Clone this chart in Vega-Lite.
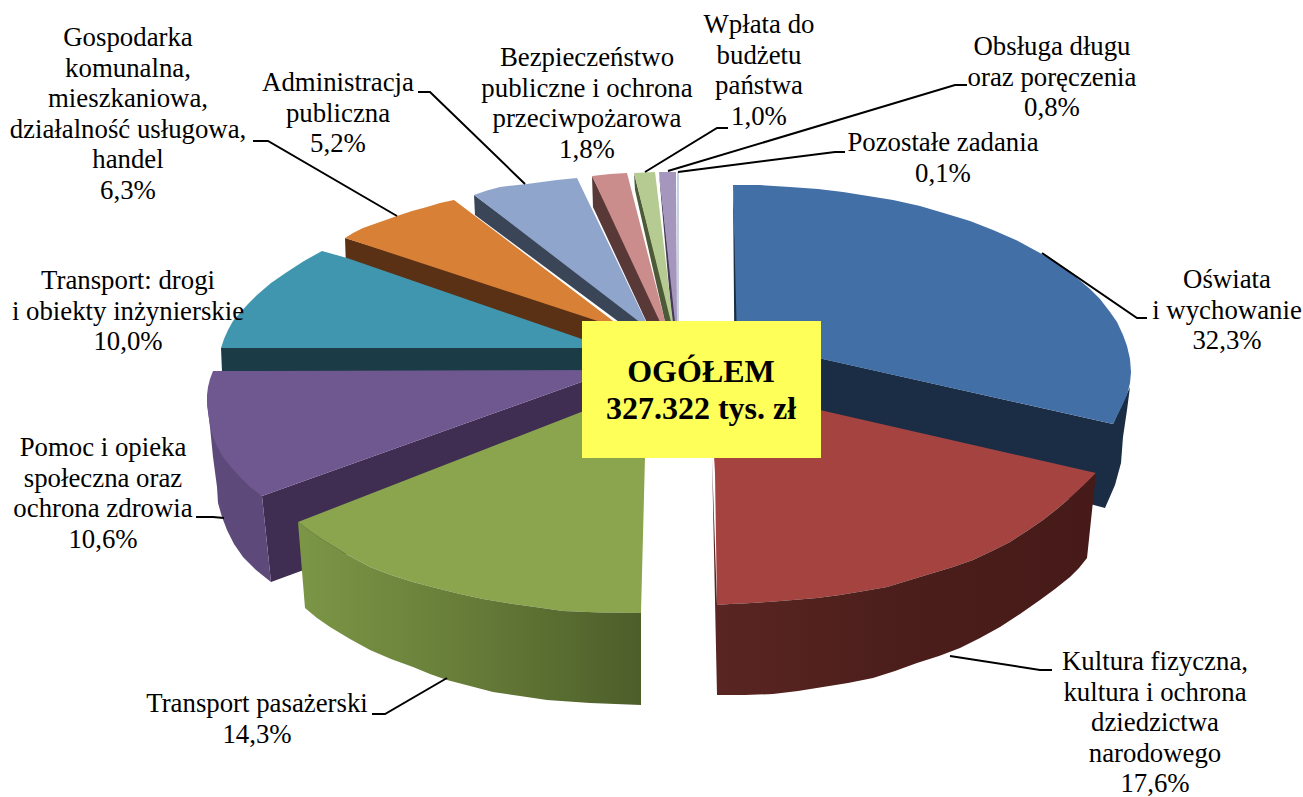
{"$schema":"https://vega.github.io/schema/vega-lite/v6.json","width":1303,"height":797,"padding":0,"autosize":{"type":"none"},"background":"white","view":{"stroke":null},
"datasets":{
"shapes":[
{"p":"poz","s":0,"x":677,"y":172},{"p":"poz","s":1,"x":679,"y":172},{"p":"poz","s":2,"x":679,"y":322},{"p":"poz","s":3,"x":677,"y":322},
{"p":"lavW","s":0,"x":659,"y":172},{"p":"lavW","s":1,"x":660,"y":185},{"p":"lavW","s":2,"x":672,"y":322},{"p":"lavW","s":3,"x":676,"y":322},
{"p":"lav","s":0,"x":659,"y":172},{"p":"lav","s":1,"x":676,"y":172},{"p":"lav","s":2,"x":677,"y":322},{"p":"lav","s":3,"x":675,"y":322},
{"p":"limW","s":0,"x":634,"y":173},{"p":"limW","s":1,"x":635,"y":190},{"p":"limW","s":2,"x":665,"y":322},{"p":"limW","s":3,"x":672,"y":322},
{"p":"lim","s":0,"x":634,"y":173},{"p":"lim","s":1,"x":655,"y":172},{"p":"lim","s":2,"x":673,"y":322},{"p":"lim","s":3,"x":671,"y":322},
{"p":"pnkW","s":0,"x":592,"y":176},{"p":"pnkW","s":1,"x":593,"y":207},{"p":"pnkW","s":2,"x":648,"y":325},{"p":"pnkW","s":3,"x":664,"y":322},
{"p":"pnk","s":0,"x":592,"y":176},{"p":"pnk","s":1,"x":610,"y":174},{"p":"pnk","s":2,"x":627,"y":173},{"p":"pnk","s":3,"x":666,"y":325},{"p":"pnk","s":4,"x":660,"y":322},
{"p":"sltW","s":0,"x":474,"y":195},{"p":"sltW","s":1,"x":475,"y":215},{"p":"sltW","s":2,"x":650,"y":345},{"p":"sltW","s":3,"x":650,"y":326},
{"p":"ltb","s":0,"x":474,"y":195},{"p":"ltb","s":1,"x":487,"y":190.5},{"p":"ltb","s":2,"x":500,"y":187},{"p":"ltb","s":3,"x":513,"y":185.5},{"p":"ltb","s":4,"x":527,"y":184},{"p":"ltb","s":5,"x":542,"y":182},{"p":"ltb","s":6,"x":557,"y":180},{"p":"ltb","s":7,"x":577,"y":178},{"p":"ltb","s":8,"x":650,"y":330},
{"p":"brn","s":0,"x":345,"y":238},{"p":"brn","s":1,"x":625,"y":325},{"p":"brn","s":2,"x":625,"y":355},{"p":"brn","s":3,"x":346,"y":268},
{"p":"org","s":0,"x":345,"y":238},{"p":"org","s":1,"x":353,"y":233},{"p":"org","s":2,"x":363,"y":228},{"p":"org","s":3,"x":380,"y":222},{"p":"org","s":4,"x":397,"y":216},{"p":"org","s":5,"x":412,"y":211},{"p":"org","s":6,"x":427,"y":207},{"p":"org","s":7,"x":440,"y":203},{"p":"org","s":8,"x":454,"y":200},{"p":"org","s":9,"x":625,"y":330},
{"p":"tealW","s":0,"x":221,"y":348},{"p":"tealW","s":1,"x":608,"y":348},{"p":"tealW","s":2,"x":608,"y":372},{"p":"tealW","s":3,"x":222,"y":372},
{"p":"teal","s":0,"x":221,"y":348},{"p":"teal","s":1,"x":224,"y":339},{"p":"teal","s":2,"x":228,"y":330},{"p":"teal","s":3,"x":233,"y":321},{"p":"teal","s":4,"x":240,"y":313},{"p":"teal","s":5,"x":248,"y":304},{"p":"teal","s":6,"x":257,"y":295},{"p":"teal","s":7,"x":271,"y":283},{"p":"teal","s":8,"x":287,"y":272},{"p":"teal","s":9,"x":304,"y":261},{"p":"teal","s":10,"x":322,"y":251},{"p":"teal","s":11,"x":347,"y":258},{"p":"teal","s":12,"x":608,"y":348},
{"p":"purI","s":0,"x":262,"y":496},{"p":"purI","s":1,"x":615,"y":370},{"p":"purI","s":2,"x":615,"y":456},{"p":"purI","s":3,"x":271,"y":582},
{"p":"purO","s":0,"x":207,"y":403},{"p":"purO","s":1,"x":262,"y":496},{"p":"purO","s":2,"x":271,"y":582},{"p":"purO","s":3,"x":256,"y":570},{"p":"purO","s":4,"x":243,"y":557},{"p":"purO","s":5,"x":234,"y":544},{"p":"purO","s":6,"x":227,"y":530},{"p":"purO","s":7,"x":222,"y":517},{"p":"purO","s":8,"x":218,"y":503},{"p":"purO","s":9,"x":217,"y":487},{"p":"purO","s":10,"x":213,"y":457},{"p":"purO","s":11,"x":210,"y":427},
{"p":"pur","s":0,"x":213,"y":371},{"p":"pur","s":1,"x":615,"y":370},{"p":"pur","s":2,"x":262,"y":496},{"p":"pur","s":3,"x":250,"y":487},{"p":"pur","s":4,"x":240,"y":477},{"p":"pur","s":5,"x":231,"y":467},{"p":"pur","s":6,"x":223,"y":457},{"p":"pur","s":7,"x":218,"y":448},{"p":"pur","s":8,"x":213,"y":437},{"p":"pur","s":9,"x":210,"y":425},{"p":"pur","s":10,"x":208,"y":412},{"p":"pur","s":11,"x":207,"y":403},{"p":"pur","s":12,"x":207,"y":395},{"p":"pur","s":13,"x":208,"y":387},{"p":"pur","s":14,"x":210,"y":379},
{"p":"bluW","s":0,"x":733,"y":185},{"p":"bluW","s":1,"x":739,"y":340},{"p":"bluW","s":2,"x":1113,"y":424},{"p":"bluW","s":3,"x":1130,"y":387},{"p":"bluW","s":4,"x":1127,"y":410},{"p":"bluW","s":5,"x":1123,"y":437},{"p":"bluW","s":6,"x":1121,"y":463},{"p":"bluW","s":7,"x":1115,"y":485},{"p":"bluW","s":8,"x":1105,"y":508},{"p":"bluW","s":9,"x":1090,"y":504},{"p":"bluW","s":10,"x":735,"y":420},
{"p":"blu","s":0,"x":733,"y":185},{"p":"blu","s":1,"x":760,"y":185},{"p":"blu","s":2,"x":790,"y":187},{"p":"blu","s":3,"x":818,"y":189},{"p":"blu","s":4,"x":843,"y":192},{"p":"blu","s":5,"x":868,"y":196},{"p":"blu","s":6,"x":893,"y":200},{"p":"blu","s":7,"x":920,"y":206},{"p":"blu","s":8,"x":947,"y":214},{"p":"blu","s":9,"x":970,"y":221},{"p":"blu","s":10,"x":993,"y":230},{"p":"blu","s":11,"x":1017,"y":240.5},{"p":"blu","s":12,"x":1040,"y":253},{"p":"blu","s":13,"x":1060,"y":265},{"p":"blu","s":14,"x":1077,"y":278},{"p":"blu","s":15,"x":1090,"y":289},{"p":"blu","s":16,"x":1100,"y":299},{"p":"blu","s":17,"x":1110,"y":312},{"p":"blu","s":18,"x":1117,"y":322},{"p":"blu","s":19,"x":1123,"y":335},{"p":"blu","s":20,"x":1127,"y":346},{"p":"blu","s":21,"x":1130,"y":359},{"p":"blu","s":22,"x":1131,"y":372},{"p":"blu","s":23,"x":1130,"y":383},{"p":"blu","s":24,"x":1127,"y":395},{"p":"blu","s":25,"x":1122,"y":406},{"p":"blu","s":26,"x":1113,"y":424},{"p":"blu","s":27,"x":737,"y":340},
{"p":"red","s":0,"x":710,"y":385},{"p":"red","s":1,"x":1096,"y":473},{"p":"red","s":2,"x":1083,"y":486},{"p":"red","s":3,"x":1070,"y":498},{"p":"red","s":4,"x":1057,"y":509},{"p":"red","s":5,"x":1043,"y":520},{"p":"red","s":6,"x":1027,"y":531},{"p":"red","s":7,"x":1010,"y":542},{"p":"red","s":8,"x":992,"y":551},{"p":"red","s":9,"x":973,"y":560},{"p":"red","s":10,"x":953,"y":567},{"p":"red","s":11,"x":933,"y":573},{"p":"red","s":12,"x":910,"y":580},{"p":"red","s":13,"x":887,"y":587},{"p":"red","s":14,"x":864,"y":591},{"p":"red","s":15,"x":840,"y":595},{"p":"red","s":16,"x":817,"y":598},{"p":"red","s":17,"x":793,"y":600},{"p":"red","s":18,"x":768,"y":602},{"p":"red","s":19,"x":743,"y":603.5},{"p":"red","s":20,"x":730,"y":604},{"p":"red","s":21,"x":717,"y":605},{"p":"red","s":22,"x":715,"y":473},
{"p":"grn","s":0,"x":648,"y":386},{"p":"grn","s":1,"x":645,"y":457},{"p":"grn","s":2,"x":641,"y":613},{"p":"grn","s":3,"x":600,"y":612.5},{"p":"grn","s":4,"x":563,"y":611},{"p":"grn","s":5,"x":535,"y":607},{"p":"grn","s":6,"x":507,"y":603},{"p":"grn","s":7,"x":483,"y":599},{"p":"grn","s":8,"x":460,"y":594},{"p":"grn","s":9,"x":436,"y":588},{"p":"grn","s":10,"x":413,"y":582},{"p":"grn","s":11,"x":391,"y":575},{"p":"grn","s":12,"x":370,"y":567},{"p":"grn","s":13,"x":346,"y":554},{"p":"grn","s":14,"x":323,"y":540},{"p":"grn","s":15,"x":310,"y":531},{"p":"grn","s":16,"x":298,"y":522}
],
"redWall":[
{"p":"redW","s":0,"x":712,"y":458},{"p":"redW","s":1,"x":717,"y":605},{"p":"redW","s":2,"x":730,"y":604},{"p":"redW","s":3,"x":743,"y":603.5},{"p":"redW","s":4,"x":768,"y":602},{"p":"redW","s":5,"x":793,"y":600},{"p":"redW","s":6,"x":817,"y":598},{"p":"redW","s":7,"x":840,"y":595},{"p":"redW","s":8,"x":864,"y":591},{"p":"redW","s":9,"x":887,"y":587},{"p":"redW","s":10,"x":910,"y":580},{"p":"redW","s":11,"x":933,"y":573},{"p":"redW","s":12,"x":953,"y":567},{"p":"redW","s":13,"x":973,"y":560},{"p":"redW","s":14,"x":992,"y":551},{"p":"redW","s":15,"x":1010,"y":542},{"p":"redW","s":16,"x":1027,"y":531},{"p":"redW","s":17,"x":1043,"y":520},{"p":"redW","s":18,"x":1057,"y":509},{"p":"redW","s":19,"x":1070,"y":498},{"p":"redW","s":20,"x":1083,"y":486},{"p":"redW","s":21,"x":1096,"y":473},{"p":"redW","s":22,"x":1087,"y":558},{"p":"redW","s":23,"x":1079,"y":568},{"p":"redW","s":24,"x":1070,"y":577},{"p":"redW","s":25,"x":1055,"y":589},{"p":"redW","s":26,"x":1040,"y":600},{"p":"redW","s":27,"x":1020,"y":614},{"p":"redW","s":28,"x":1000,"y":627},{"p":"redW","s":29,"x":980,"y":638},{"p":"redW","s":30,"x":960,"y":648},{"p":"redW","s":31,"x":939,"y":656},{"p":"redW","s":32,"x":917,"y":663},{"p":"redW","s":33,"x":895,"y":671},{"p":"redW","s":34,"x":873,"y":678},{"p":"redW","s":35,"x":848,"y":683},{"p":"redW","s":36,"x":823,"y":687},{"p":"redW","s":37,"x":798,"y":691},{"p":"redW","s":38,"x":773,"y":694},{"p":"redW","s":39,"x":745,"y":695},{"p":"redW","s":40,"x":717,"y":695}
],
"greenWall":[
{"p":"grnW","s":0,"x":298,"y":522},{"p":"grnW","s":1,"x":310,"y":531},{"p":"grnW","s":2,"x":323,"y":540},{"p":"grnW","s":3,"x":346,"y":554},{"p":"grnW","s":4,"x":370,"y":567},{"p":"grnW","s":5,"x":391,"y":575},{"p":"grnW","s":6,"x":413,"y":582},{"p":"grnW","s":7,"x":436,"y":588},{"p":"grnW","s":8,"x":460,"y":594},{"p":"grnW","s":9,"x":483,"y":599},{"p":"grnW","s":10,"x":507,"y":603},{"p":"grnW","s":11,"x":535,"y":607},{"p":"grnW","s":12,"x":563,"y":611},{"p":"grnW","s":13,"x":600,"y":612.5},{"p":"grnW","s":14,"x":641,"y":613},{"p":"grnW","s":15,"x":641,"y":705},{"p":"grnW","s":16,"x":590,"y":703},{"p":"grnW","s":17,"x":547,"y":700},{"p":"grnW","s":18,"x":520,"y":696},{"p":"grnW","s":19,"x":493,"y":692},{"p":"grnW","s":20,"x":470,"y":686},{"p":"grnW","s":21,"x":447,"y":680},{"p":"grnW","s":22,"x":430,"y":674},{"p":"grnW","s":23,"x":413,"y":667},{"p":"grnW","s":24,"x":391,"y":659},{"p":"grnW","s":25,"x":370,"y":650},{"p":"grnW","s":26,"x":350,"y":639},{"p":"grnW","s":27,"x":330,"y":627},{"p":"grnW","s":28,"x":317,"y":618},{"p":"grnW","s":29,"x":305,"y":608}
],
"leaders":[
{"l":"a","s":0,"x":1042,"y":253},{"l":"a","s":1,"x":1137,"y":318},{"l":"a","s":2,"x":1147,"y":318},
{"l":"b","s":0,"x":950,"y":656},{"l":"b","s":1,"x":1040,"y":670},{"l":"b","s":2,"x":1052,"y":670},
{"l":"c","s":0,"x":447,"y":678},{"l":"c","s":1,"x":385,"y":714},{"l":"c","s":2,"x":372,"y":714},
{"l":"d","s":0,"x":224,"y":518},{"l":"d","s":1,"x":213,"y":517},{"l":"d","s":2,"x":196,"y":517},
{"l":"e","s":0,"x":397,"y":216},{"l":"e","s":1,"x":268,"y":141},{"l":"e","s":2,"x":253,"y":141},
{"l":"f","s":0,"x":525,"y":184},{"l":"f","s":1,"x":430,"y":92},{"l":"f","s":2,"x":418,"y":92},
{"l":"g","s":0,"x":645,"y":172},{"l":"g","s":1,"x":717,"y":128},{"l":"g","s":2,"x":728,"y":128},
{"l":"h","s":0,"x":668,"y":171},{"l":"h","s":1,"x":955,"y":85},{"l":"h","s":2,"x":967,"y":85},
{"l":"i","s":0,"x":678,"y":172},{"l":"i","s":1,"x":835,"y":152},{"l":"i","s":2,"x":845,"y":152}
],
"labels":[
{"t":"Oświata\ni wychowanie\n32,3%","x":1227,"y":288},
{"t":"Kultura fizyczna,\nkultura i ochrona\ndziedzictwa\nnarodowego\n17,6%","x":1155,"y":670},
{"t":"Transport pasażerski\n14,3%","x":257,"y":712},
{"t":"Pomoc i opieka\nspołeczna oraz\nochrona zdrowia\n10,6%","x":103,"y":456},
{"t":"Transport: drogi\ni obiekty inżynierskie\n10,0%","x":128,"y":289},
{"t":"Gospodarka\nkomunalna,\nmieszkaniowa,\ndziałalność usługowa,\nhandel\n6,3%","x":128,"y":46},
{"t":"Administracja\npubliczna\n5,2%","x":338,"y":91},
{"t":"Bezpieczeństwo\npubliczne i ochrona\nprzeciwpożarowa\n1,8%","x":587,"y":66},
{"t":"Wpłata do\nbudżetu\npaństwa\n1,0%","x":759,"y":33},
{"t":"Obsługa długu\noraz poręczenia\n0,8%","x":1052,"y":55},
{"t":"Pozostałe zadania\n0,1%","x":943,"y":151}
],
"box":[{"x":582,"x2":821,"y":321,"y2":458}],
"total":[{"t":"OGÓŁEM\n327.322 tys. zł","x":701,"y":382}]
},
"layer":[
{"data":{"name":"shapes"},"mark":{"type":"line","filled":true,"interpolate":"linear-closed","strokeWidth":0},
"encoding":{"x":{"field":"x","type":"quantitative","scale":{"domain":[0,1303],"nice":false,"zero":false},"axis":null},"y":{"field":"y","type":"quantitative","scale":{"domain":[797,0],"nice":false,"zero":false},"axis":null},"order":{"field":"s"},
"fill":{"field":"p","type":"nominal","legend":null,"scale":{"domain":["poz","lavW","lav","limW","lim","pnkW","pnk","sltW","ltb","brn","org","tealW","teal","purI","purO","pur","bluW","blu","red","grn"],"range":["#c5d2e0","#453b58","#a596bd","#4d5a37","#b6cb92","#593838","#cb8d8c","#3a4657","#8fa5cc","#5a3115","#d88036","#1b3b47","#3f96ae","#402e52","#5e4a7a","#6f5790","#1b2d44","#426fa6","#a54341","#8aa54e"]}}}},
{"data":{"name":"redWall"},"mark":{"type":"line","interpolate":"linear-closed","strokeWidth":0,"filled":true,"fill":{"gradient":"linear","x1":0,"y1":0,"x2":1,"y2":0,"stops":[{"offset":0,"color":"#5a2522"},{"offset":0.5,"color":"#4b1e1b"},{"offset":1,"color":"#461a18"}]}},
"encoding":{"x":{"field":"x","type":"quantitative","scale":{"domain":[0,1303],"nice":false,"zero":false},"axis":null},"y":{"field":"y","type":"quantitative","scale":{"domain":[797,0],"nice":false,"zero":false},"axis":null},"order":{"field":"s"}}},
{"data":{"name":"greenWall"},"mark":{"type":"line","interpolate":"linear-closed","strokeWidth":0,"filled":true,"fill":{"gradient":"linear","x1":0,"y1":0,"x2":1,"y2":0,"stops":[{"offset":0,"color":"#7c9646"},{"offset":0.5,"color":"#667c38"},{"offset":1,"color":"#4d5e2a"}]}},
"encoding":{"x":{"field":"x","type":"quantitative","scale":{"domain":[0,1303],"nice":false,"zero":false},"axis":null},"y":{"field":"y","type":"quantitative","scale":{"domain":[797,0],"nice":false,"zero":false},"axis":null},"order":{"field":"s"}}},
{"data":{"name":"leaders"},"mark":{"type":"line","color":"black","strokeWidth":2},
"encoding":{"x":{"field":"x","type":"quantitative","scale":{"domain":[0,1303],"nice":false,"zero":false},"axis":null},"y":{"field":"y","type":"quantitative","scale":{"domain":[797,0],"nice":false,"zero":false},"axis":null},"order":{"field":"s"},"detail":{"field":"l"}}},
{"data":{"name":"box"},"mark":{"type":"rect","color":"#ffff5a"},
"encoding":{"x":{"field":"x","type":"quantitative","scale":{"domain":[0,1303],"nice":false,"zero":false},"axis":null},"x2":{"field":"x2"},"y":{"field":"y","type":"quantitative","scale":{"domain":[797,0],"nice":false,"zero":false},"axis":null},"y2":{"field":"y2"}}},
{"data":{"name":"labels"},"mark":{"type":"text","font":"Liberation Serif","fontSize":26.8,"lineBreak":"\n","lineHeight":30.6,"align":"center","baseline":"alphabetic","color":"black"},
"encoding":{"x":{"field":"x","type":"quantitative","scale":{"domain":[0,1303],"nice":false,"zero":false},"axis":null},"y":{"field":"y","type":"quantitative","scale":{"domain":[797,0],"nice":false,"zero":false},"axis":null},"text":{"field":"t"}}},
{"data":{"name":"total"},"mark":{"type":"text","font":"Liberation Serif","fontSize":32,"fontWeight":"bold","lineBreak":"\n","lineHeight":36.5,"align":"center","baseline":"alphabetic","color":"black"},
"encoding":{"x":{"field":"x","type":"quantitative","scale":{"domain":[0,1303],"nice":false,"zero":false},"axis":null},"y":{"field":"y","type":"quantitative","scale":{"domain":[797,0],"nice":false,"zero":false},"axis":null},"text":{"field":"t"}}}
]}
